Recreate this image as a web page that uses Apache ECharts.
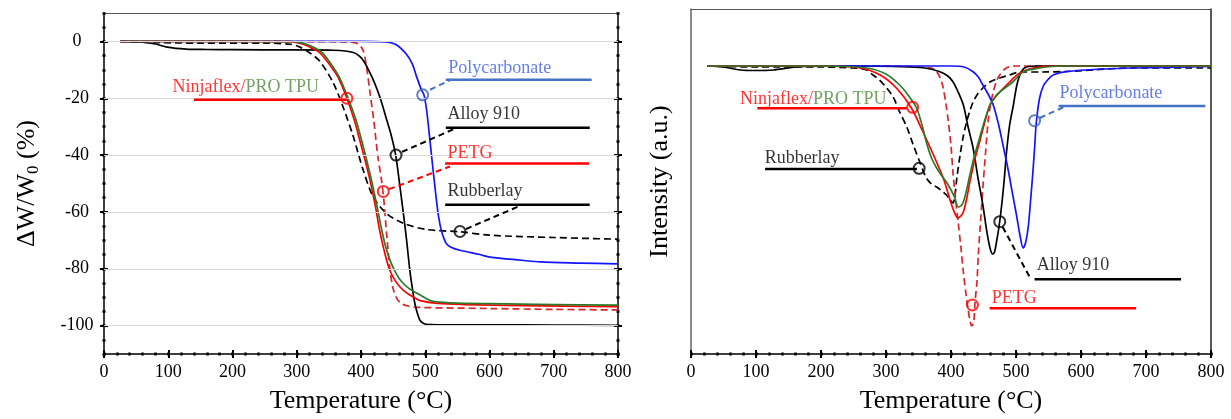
<!DOCTYPE html>
<html>
<head>
<meta charset="utf-8">
<script src="https://cdn.jsdelivr.net/npm/echarts@6.0.0/dist/echarts.min.js"></script>
<style>
html,body{margin:0;padding:0;background:#fff}
#main{width:1231px;height:419px}
</style>
</head>
<body>
<div id="main"></div>
<script>
// TGA curves: temperature (°C) and weight change (%)
var pcT = [25, 200, 400, 440, 455, 471, 480, 486.5, 494, 498, 502, 506, 510, 514, 518, 521, 525, 529, 533, 540, 554, 585, 601, 650, 679, 740, 800];
var pcW = [0, 0, 0, -0.2, -1.2, -4.6, -8, -12.4, -17, -18.8, -24, -32, -40.6, -49, -57, -62, -66.5, -69.3, -71.2, -72.4, -73.5, -75, -75.9, -77, -77.6, -78, -78.3];

var alT = [25, 60, 80, 98, 128, 160, 200, 300, 357, 388, 403, 419, 430, 440, 447, 454, 460, 466, 471, 476, 480, 484, 488, 492, 497, 502, 520, 600, 700, 800];
var alW = [0, -0.3, -0.9, -2, -2.7, -2.85, -2.9, -3, -3.1, -3.9, -6.5, -13.5, -20, -27.6, -33, -40, -50, -60.6, -70, -80.6, -87, -92.4, -95.8, -98.2, -99.2, -99.6, -99.7, -99.7, -99.8, -99.9];

var rbT = [25, 80, 150, 250, 290, 305, 320, 336, 357, 372, 388, 403, 419, 440, 466, 502, 554, 600, 700, 800];
var rbW = [0, -0.4, -0.6, -0.6, -1, -2, -4, -7, -14.7, -23, -33.5, -45, -54.7, -60.6, -64, -66.2, -67, -68.2, -69, -69.6];

var pgT = [25, 200, 380, 395, 403, 408, 414, 420, 426, 432, 436, 440, 445, 450, 456, 463, 475, 490, 600, 700, 800];
var pgW = [0, 0, -0.2, -0.8, -3, -8, -18, -28, -40, -49, -57, -68, -80, -87, -90.5, -92.3, -93.2, -93.6, -94, -94.3, -94.5];

var nfT = [25, 200, 290, 310, 322, 336, 350, 364, 378, 390, 398, 406, 414, 422, 429, 437, 445, 455, 466, 480, 492, 520, 560, 650, 800];
var nfW = [0, 0, -0.1, -1, -2.2, -4, -7.8, -12.5, -20, -28, -34.7, -41.5, -48.8, -57.5, -66.5, -74.5, -80.6, -84.8, -87.6, -89.8, -91.2, -92.2, -92.6, -93, -93.3];

var tpT = [25, 200, 295, 315, 328, 340, 352, 366, 380, 392, 400, 408, 416, 424, 431, 438, 446, 455, 463, 475, 487, 500, 512, 540, 600, 700, 800];
var tpW = [0, 0, -0.1, -1, -2.2, -4, -7.5, -12.5, -20, -27.5, -34, -41, -48.5, -57, -65, -72, -77.5, -81.8, -84.5, -87, -88.6, -90.3, -91.5, -92, -92.3, -92.6, -92.8];

// DTG curves: temperature (°C) and intensity (a.u.)
var pcDT = [25, 200, 400, 420, 434, 442, 449, 457, 465, 473, 480, 488, 495, 501, 506, 511, 515, 519, 523, 526, 529, 531, 536, 542, 550, 557, 577, 620, 680, 800];
var pcDI = [0, 0, 0, -0.01, -0.057, -0.11, -0.19, -0.28, -0.39, -0.58, -0.79, -1.04, -1.29, -1.5, -1.69, -1.82, -1.76, -1.6, -1.3, -1.06, -0.78, -0.58, -0.33, -0.2, -0.13, -0.09, -0.057, -0.035, -0.02, -0.005];

var alDT = [25, 50, 76, 100, 127, 150, 168, 250, 337, 360, 383, 395, 403, 411, 419, 426, 434, 441, 449, 455, 460, 464, 467, 470, 474, 478, 482, 485, 490, 496, 501, 506, 513, 530, 800];
var alDI = [0, -0.01, -0.04, -0.045, -0.04, -0.02, -0.005, 0, -0.01, -0.02, -0.057, -0.1, -0.157, -0.26, -0.39, -0.6, -0.82, -1.1, -1.39, -1.65, -1.82, -1.88, -1.86, -1.76, -1.6, -1.39, -1.13, -0.89, -0.6, -0.39, -0.2, -0.09, -0.02, 0, 0];

var rbDT = [25, 100, 200, 250, 270, 280, 290, 301, 311, 321, 332, 342, 352, 362, 370, 378, 386, 393, 399, 403, 406, 409, 414, 419, 424, 429, 434, 441, 449, 460, 475, 490, 506, 540, 577, 680, 800];
var rbDI = [0, -0.01, -0.01, -0.02, -0.04, -0.09, -0.14, -0.22, -0.31, -0.46, -0.61, -0.79, -0.96, -1.12, -1.18, -1.21, -1.25, -1.29, -1.34, -1.37, -1.3, -1.12, -0.89, -0.7, -0.56, -0.45, -0.36, -0.28, -0.22, -0.16, -0.12, -0.09, -0.06, -0.06, -0.055, -0.02, -0.02];

var pgDT = [25, 200, 300, 370, 378, 384, 388, 392, 396, 400, 403, 407, 411, 415, 419, 423, 426, 429, 432, 435, 437, 440, 442, 445, 449, 453, 457, 461, 465, 470, 475, 485, 500, 800];
var pgDI = [0, 0, 0, -0.02, -0.057, -0.13, -0.22, -0.37, -0.56, -0.8, -1.06, -1.33, -1.56, -1.8, -2.06, -2.28, -2.42, -2.54, -2.6, -2.56, -2.36, -2.15, -1.89, -1.6, -1.22, -0.88, -0.56, -0.38, -0.26, -0.15, -0.09, -0.02, 0, 0];

var nfDT = [25, 200, 260, 291, 316, 339, 357, 373, 388, 401, 407, 411, 415, 419, 424, 429, 436, 444, 452, 460, 468, 475, 490, 506, 526, 560, 800];
var nfDI = [0, 0, -0.02, -0.09, -0.22, -0.42, -0.66, -0.89, -1.12, -1.39, -1.49, -1.52, -1.5, -1.46, -1.33, -1.16, -0.95, -0.76, -0.56, -0.39, -0.31, -0.26, -0.16, -0.07, -0.02, 0, 0];

var tpDT = [25, 200, 270, 300, 321, 335, 347, 355, 362, 370, 378, 386, 393, 400, 406, 411, 415, 419, 424, 429, 436, 444, 452, 460, 468, 475, 495, 511, 536, 570, 800];
var tpDI = [0, 0, -0.02, -0.08, -0.19, -0.3, -0.42, -0.58, -0.76, -0.92, -1.02, -1.1, -1.16, -1.24, -1.32, -1.41, -1.4, -1.36, -1.24, -1.09, -0.9, -0.72, -0.54, -0.39, -0.31, -0.26, -0.16, -0.06, -0.02, 0, 0];

var wLabels = [0, -20, -40, -60, -80, -100];

var FONT = 'Liberation Serif';
var RED = '#ff0000', GREEN = '#2a7a2a', BLUE = '#1414ff', BLACK = '#000000', DRED = '#d8262b';

function zip(a, b) {
    var out = [];
    for (var i = 0; i < a.length; i++) out.push([a[i], b[i]]);
    return out;
}

function curve(xi, yi, xs, ys, color, dashed) {
    return {
        type: 'line', xAxisIndex: xi, yAxisIndex: yi,
        data: zip(xs, ys), showSymbol: false, symbol: 'none',
        smooth: 0.3, silent: true, z: 3,
        lineStyle: { color: color, width: 1.7, type: dashed ? [7, 4] : 'solid' }
    };
}

// annotation: label, underline, optional dashed leader, circle marker
function note(xi, yi, n) {
    var list = [];
    list.push({
        type: 'line', xAxisIndex: xi, yAxisIndex: yi, data: n.line, symbol: 'none', silent: true, z: 5,
        lineStyle: { color: n.color, width: 2.5 }
    });
    if (n.leader) {
        list.push({
            type: 'line', xAxisIndex: xi, yAxisIndex: yi, data: n.leader, symbol: 'none', silent: true, z: 5,
            lineStyle: { color: n.color, width: 2, type: [6, 4] }
        });
    }
    list.push({
        type: 'scatter', xAxisIndex: xi, yAxisIndex: yi, data: [n.circle], symbol: 'circle', symbolSize: 11,
        silent: true, z: 6,
        itemStyle: { color: 'rgba(0,0,0,0)', borderColor: n.circleColor || n.color, borderWidth: 2 }
    });
    list.push({
        type: 'scatter', xAxisIndex: xi, yAxisIndex: yi, data: [[n.tx, n.ty]], symbolSize: 1,
        itemStyle: { color: 'rgba(0,0,0,0)' }, silent: true, z: 7,
        label: {
            show: true, position: 'right', distance: 0, formatter: n.text,
            fontFamily: FONT, fontSize: 18, color: n.textColor || n.color,
            rich: { r: { color: RED, fontSize: 18, fontFamily: FONT }, g: { color: '#4f8a3b', fontSize: 18, fontFamily: FONT } }
        }
    });
    return list;
}

var notesL = [
    { text: '{r|Ninjaflex/}{g|PRO TPU}', tx: 105.8, ty: -16, line: [[140, -20.5], [378, -20.5]], circle: [378, -20], color: RED },
    { text: 'Polycarbonate', tx: 535, ty: -9.3, line: [[532, -13.5], [759, -13.5]], leader: [[507.4, -17], [540, -13.5]], circle: [496, -18.8], color: '#4472c4', textColor: '#3d5ee6', circleColor: '#3b64a8' },
    { text: 'Alloy 910', tx: 534, ty: -25.8, line: [[532, -30.4], [756, -30.4]], leader: [[463.8, -38.9], [546, -30.7]], circle: [454.5, -40], color: BLACK },
    { text: 'PETG', tx: 534, ty: -39.2, line: [[531, -43], [755, -43]], leader: [[443.6, -52], [538.5, -44]], circle: [434.7, -52.8], color: RED },
    { text: 'Rubberlay', tx: 534, ty: -52.9, line: [[531, -57.5], [756, -57.5]], leader: [[563.4, -66], [647, -57.9]], circle: [554, -66.9], color: BLACK }
];
var notesR = [
    { text: '{r|Ninjaflex/}{g|PRO TPU}', tx: 74.6, ty: -0.33, line: [[102, -0.423], [332, -0.423]], circle: [341, -0.413], color: RED },
    { text: 'Rubberlay', tx: 112.5, ty: -0.92, line: [[114, -1.03], [347.5, -1.03]], circle: [351, -1.023], color: BLACK },
    { text: 'Polycarbonate', tx: 566, ty: -0.27, line: [[565.5, -0.40], [791.3, -0.40]], leader: [[536.4, -0.52], [577, -0.40]], circle: [528.6, -0.547], color: '#4472c4', textColor: '#3d5ee6', circleColor: '#3b64a8' },
    { text: 'Alloy 910', tx: 531, ty: -1.99, line: [[528.6, -2.133], [754, -2.133]], leader: [[479.5, -1.61], [521, -2.11]], circle: [475, -1.557], color: BLACK },
    { text: 'PETG', tx: 462, ty: -2.32, line: [[459.5, -2.423], [684.8, -2.423]], circle: [433, -2.39], color: RED }
];

function xAxes(g) {
    var base = { gridIndex: g, type: 'value', min: 0, max: 800, position: 'bottom', splitLine: { show: false } };
    return [
        Object.assign({}, base, {
            interval: 100,
            axisLine: { onZero: false, lineStyle: { color: '#000', width: 1.5 } },
            axisTick: { show: false },
            axisLabel: { fontFamily: FONT, fontSize: 18, color: '#000', margin: 9 },
            name: 'Temperature (°C)', nameLocation: 'middle', nameGap: 34,
            nameTextStyle: { fontFamily: FONT, fontSize: 26, color: '#000' }
        }),
        Object.assign({}, base, {
            interval: 100, offset: -4,
            axisLine: { show: false, onZero: false }, axisLabel: { show: false },
            axisTick: { length: 8, lineStyle: { color: '#000', width: 2 } }
        }),
        Object.assign({}, base, {
            interval: 20, offset: -1.5,
            axisLine: { show: false, onZero: false }, axisLabel: { show: false },
            axisTick: { length: 3, lineStyle: { color: '#000', width: 2.5 } }
        }),
        Object.assign({}, base, {
            position: 'top',
            axisLine: { onZero: false, lineStyle: { color: '#555', width: 1.2 } },
            axisTick: { show: false }, axisLabel: { show: false }
        })
    ];
}

function wAxes(pos) {
    var base = { gridIndex: 0, type: 'value', min: -110, max: 10, position: pos, splitLine: { show: false } };
    var main = Object.assign({}, base, {
        axisLine: { onZero: false, lineStyle: { color: '#000', width: 1.5 } },
        axisTick: { show: false },
        axisLabel: pos === 'left'
            ? { customValues: wLabels, fontFamily: FONT, fontSize: 18, color: '#000', margin: 27, align: 'center' }
            : { show: false }
    });
    if (pos === 'left') {
        main.name = '{a|ΔW/W}{s|0}{a| (%)}';
        main.nameLocation = 'middle';
        main.nameGap = 62;
        main.nameTextStyle = {
            fontFamily: FONT, fontSize: 26, color: '#000',
            rich: {
                a: { fontFamily: FONT, fontSize: 26, lineHeight: 30 },
                s: { fontFamily: FONT, fontSize: 17, lineHeight: 8, verticalAlign: 'bottom' }
            }
        };
    }
    return [
        main,
        Object.assign({}, base, {
            offset: -4,
            axisLine: { show: false, onZero: false }, axisLabel: { show: false },
            axisTick: { customValues: wLabels, length: 8, lineStyle: { color: '#000', width: 2 } }
        }),
        Object.assign({}, base, {
            interval: 5, offset: -1.5,
            axisLine: { show: false, onZero: false }, axisLabel: { show: false },
            axisTick: { length: 3, lineStyle: { color: '#000', width: 2.5 } }
        })
    ];
}

var xAxis = xAxes(0).concat(xAxes(1));
var yAxis = wAxes('left').concat(wAxes('right')).concat([
    {
        gridIndex: 1, type: 'value', min: -2.88, max: 0.57, position: 'left',
        axisLine: { onZero: false, lineStyle: { color: '#666', width: 1.5 } },
        axisTick: { show: false }, axisLabel: { show: false }, splitLine: { show: false },
        name: 'Intensity (a.u.)', nameLocation: 'middle', nameGap: 18,
        nameTextStyle: { fontFamily: FONT, fontSize: 26, color: '#000' }
    },
    {
        gridIndex: 1, type: 'value', min: -2.88, max: 0.57, position: 'right',
        axisLine: { onZero: false, lineStyle: { color: '#222', width: 1.5 } },
        axisTick: { show: false }, axisLabel: { show: false }, splitLine: { show: false }
    }
]);

var gridLines = {
    type: 'line', xAxisIndex: 0, yAxisIndex: 0, data: [], silent: true, z: 1,
    markLine: {
        silent: true, symbol: 'none', label: { show: false },
        lineStyle: { color: '#d9d9d9', width: 1, type: 'solid' },
        data: wLabels.map(function (v) { return { yAxis: v }; })
    }
};

var series = [gridLines,
    curve(0, 0, rbT, rbW, BLACK, true),
    curve(0, 0, pgT, pgW, DRED, true),
    curve(0, 0, alT, alW, BLACK, false),
    curve(0, 0, pcT, pcW, BLUE, false),
    curve(0, 0, nfT, nfW, RED, false),
    curve(0, 0, tpT, tpW, GREEN, false),
    curve(4, 6, rbDT, rbDI, BLACK, true),
    curve(4, 6, pgDT, pgDI, DRED, true),
    curve(4, 6, alDT, alDI, BLACK, false),
    curve(4, 6, pcDT, pcDI, BLUE, false),
    curve(4, 6, nfDT, nfDI, RED, false),
    curve(4, 6, tpDT, tpDI, GREEN, false)
];
notesL.forEach(function (n) { series = series.concat(note(0, 0, n)); });
notesR.forEach(function (n) { series = series.concat(note(4, 6, n)); });

var myChart = echarts.init(document.getElementById('main'));
var option = {
    animation: false,
    backgroundColor: '#ffffff',
    textStyle: { fontFamily: FONT },
    grid: [
        { left: 104, right: 613, top: 13, bottom: 65 },
        { left: 691, right: 20, top: 9, bottom: 65 }
    ],
    xAxis: xAxis,
    yAxis: yAxis,
    series: series
};
myChart.setOption(option);
</script>
</body>
</html>
